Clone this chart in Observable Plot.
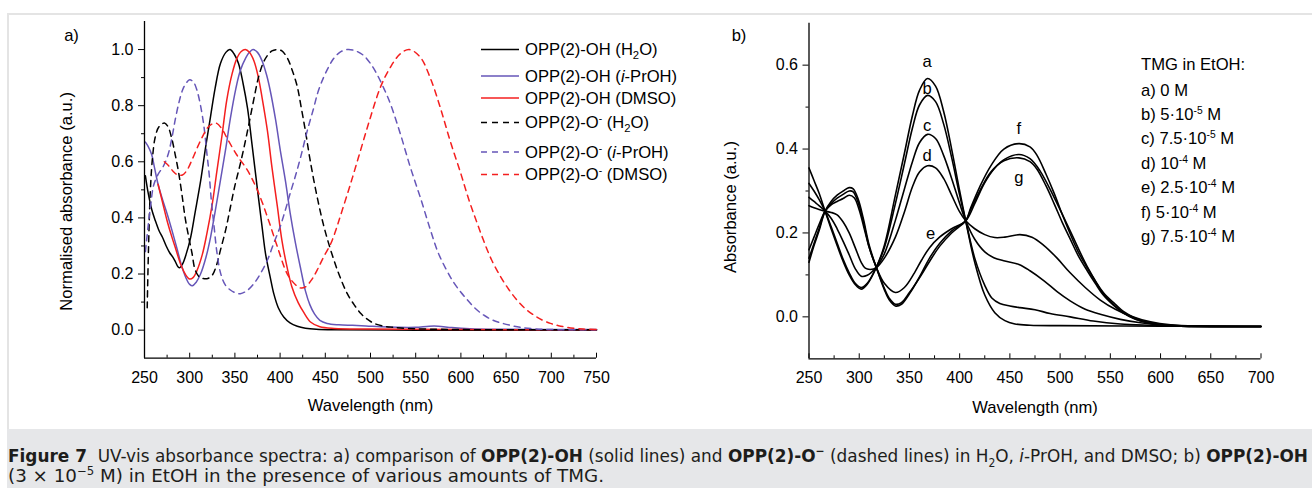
<!DOCTYPE html>
<html><head><meta charset="utf-8">
<script src="https://cdn.jsdelivr.net/npm/d3@7"></script>
<script src="https://cdn.jsdelivr.net/npm/@observablehq/plot@0.6"></script>
<style>
html,body{margin:0;padding:0;background:#fff;width:1312px;height:488px;overflow:hidden;font-family:"Liberation Sans",Arial,sans-serif;}
#frame{position:absolute;left:7px;top:13px;width:1310px;height:416px;border-left:2px solid #e4e4e4;border-top:2px solid #e4e4e4;box-sizing:border-box;}
#pa{position:absolute;left:0;top:0;}
#pb{position:absolute;left:700px;top:0;}
#ov{position:absolute;left:0;top:0;}
#cap{position:absolute;left:7px;top:429px;width:1305px;height:59px;background:#e6e7e9;}
.cl{position:absolute;left:1px;white-space:nowrap;font-family:"Liberation Sans Narrow","DejaVu Sans Condensed","Liberation Sans",sans-serif;font-size:18px;line-height:20px;color:#1d1d1b;transform-origin:0 50%;}
.cl sup,.cl sub{font-size:11.5px;line-height:0;}
</style></head>
<body>
<div id="frame"></div>
<div id="pa"></div>
<div id="pb"></div>
<div id="cap">
<div class="cl" id="l1" style="top:17px"><b>Figure 7</b>&nbsp; UV-vis absorbance spectra: a) comparison of <b>OPP(2)-OH</b> (solid lines) and <b>OPP(2)-O<sup>−</sup></b> (dashed lines) in H<sub>2</sub>O, <i>i</i>-PrOH, and DMSO; b) <b>OPP(2)-OH</b></div>
<div class="cl" id="l2" style="top:37px">(3 × 10<sup>−5</sup> M) in EtOH in the presence of various amounts of TMG.</div>
</div>
<script>
// ---------- Panel a data: [wavelength nm, normalised absorbance] ----------
const ohH2O = [[251,0.55],[254,0.49],[258,0.43],[262,0.39],[266,0.355],[270,0.33],[274,0.30],[278,0.275],[281,0.262],[284,0.245],[287,0.226],[289,0.222],[292,0.235],[296,0.27],[301,0.33],[306,0.42],[312,0.53],[318,0.66],[323,0.76],[328,0.86],[334,0.95],[340,0.99],[344.5,1.0],[349,0.985],[354,0.95],[359,0.88],[364,0.79],[369,0.66],[375,0.50],[380,0.37],[384,0.27],[389,0.19],[393,0.13],[398,0.08],[404,0.047],[411,0.026],[419,0.014],[428,0.007],[440,0.003],[460,0.001],[550,0.0],[650,0.0],[750,0.0]];
const ohPrOH = [[251,0.67],[254,0.655],[258,0.625],[261,0.58],[265,0.52],[270,0.465],[275,0.415],[280,0.36],[286,0.29],[291,0.23],[296,0.185],[300,0.163],[303,0.158],[307,0.17],[312,0.2],[318,0.26],[323,0.33],[328,0.42],[334,0.534],[340,0.65],[345,0.755],[351,0.86],[356,0.925],[362,0.97],[366,0.99],[370,1.0],[375,0.99],[380,0.96],[385,0.91],[389,0.855],[395,0.75],[400,0.645],[406,0.53],[411,0.42],[417,0.31],[423,0.215],[428,0.14],[433,0.09],[438,0.058],[444,0.035],[452,0.024],[465,0.019],[480,0.017],[495,0.015],[511,0.012],[530,0.01],[550,0.01],[565,0.014],[575,0.014],[590,0.009],[610,0.005],[650,0.003],[700,0.002],[750,0.002]];
const ohDMSO = [[265,0.52],[270,0.455],[275,0.39],[280,0.335],[285,0.285],[290,0.235],[295,0.2],[300,0.182],[304,0.188],[308,0.212],[314,0.27],[319,0.344],[325,0.45],[330,0.565],[336,0.70],[341,0.82],[347,0.915],[352,0.967],[357,0.993],[361.5,1.0],[366,0.99],[371,0.96],[376,0.90],[380,0.83],[386,0.71],[391,0.58],[397,0.44],[402,0.32],[408,0.22],[413,0.155],[420,0.098],[426,0.064],[434,0.028],[444,0.012],[460,0.006],[500,0.004],[600,0.002],[750,0.001]];
const oH2O = [[253,0.08],[254.5,0.3],[256.5,0.5],[259,0.62],[262,0.69],[266,0.725],[272,0.738],[276,0.725],[280,0.685],[284,0.625],[288,0.557],[292,0.47],[295,0.40],[299,0.33],[302.5,0.275],[306,0.215],[310,0.192],[315,0.184],[320,0.184],[325,0.196],[330,0.235],[334,0.285],[340,0.36],[345,0.438],[350,0.515],[356,0.593],[362,0.68],[367,0.759],[372,0.84],[376,0.90],[381,0.95],[386,0.979],[391,0.995],[397,1.0],[402,0.995],[408,0.97],[413,0.93],[419,0.868],[423,0.80],[428,0.71],[433,0.61],[440,0.49],[448,0.375],[456,0.285],[465,0.2],[474,0.132],[482,0.09],[489,0.06],[496,0.04],[504,0.024],[515,0.014],[525,0.01],[540,0.006],[560,0.004],[600,0.002],[750,0.001]];
const oPrOH = [[251,0.28],[254,0.37],[257,0.45],[260,0.515],[265,0.555],[271,0.585],[276,0.625],[280,0.68],[284,0.75],[288,0.81],[292,0.855],[296,0.88],[300,0.892],[304,0.885],[308,0.855],[312,0.80],[316,0.72],[319,0.63],[321.5,0.557],[324,0.46],[327,0.368],[330,0.28],[334,0.205],[339,0.163],[345,0.143],[350,0.134],[356,0.13],[363,0.14],[371,0.166],[378,0.2],[386,0.25],[393,0.31],[400,0.368],[406,0.43],[411,0.486],[417,0.55],[423,0.62],[430,0.71],[437,0.79],[442,0.85],[448,0.90],[454,0.94],[459,0.967],[466,0.99],[474,1.0],[482,0.997],[492,0.98],[500,0.95],[507,0.913],[515,0.86],[522,0.807],[533,0.70],[544,0.581],[555,0.474],[566,0.36],[575,0.275],[584,0.215],[592,0.17],[600,0.135],[608,0.105],[616,0.077],[625,0.054],[635,0.036],[644,0.026],[655,0.017],[666,0.01],[680,0.005],[700,0.002],[750,0.001]];
const oDMSO = [[272,0.6],[277,0.585],[282,0.565],[287,0.553],[292,0.553],[297,0.57],[303,0.61],[309,0.655],[315,0.695],[320,0.722],[325,0.735],[330,0.737],[336,0.715],[342,0.68],[352,0.625],[364,0.569],[375,0.498],[386,0.403],[397,0.297],[408,0.2],[417,0.162],[423,0.15],[428,0.154],[435,0.18],[441,0.214],[448,0.26],[456,0.308],[462,0.36],[467,0.41],[478,0.522],[489,0.641],[500,0.759],[511,0.866],[522,0.937],[533,0.985],[543,1.0],[555,0.973],[566,0.90],[577,0.795],[588,0.676],[600,0.557],[609,0.463],[617,0.39],[625,0.32],[634,0.25],[644,0.19],[653,0.145],[662,0.107],[671,0.077],[681,0.053],[690,0.036],[699,0.024],[708,0.016],[718,0.01],[735,0.004],[750,0.002]];
const seriesNamesA = ["OPP(2)-OH (H_{2}O)","OPP(2)-OH (*i*-PrOH)","OPP(2)-OH (DMSO)","OPP(2)-O^{-} (H_{2}O)","OPP(2)-O^{-} (*i*-PrOH)","OPP(2)-O^{-} (DMSO)"];
const xTicksA = [250,300,350,400,450,500,550,600,650,700,750];
const yTicksA = [0,0.2,0.4,0.6,0.8,1.0];

// ---------- Panel b data: [wavelength nm, absorbance] ----------
const tmgA = [[250,0.355],[255,0.325],[260,0.295],[266,0.252],[272,0.21],[278,0.17],[284,0.132],[290,0.1],[296,0.077],[302,0.066],[308,0.078],[317,0.118],[325,0.17],[336,0.29],[345,0.39],[353,0.48],[360,0.54],[368,0.568],[376,0.55],[384,0.49],[392,0.40],[400,0.30],[406,0.229],[415,0.13],[425,0.052],[435,0.01],[445,-0.009],[455,-0.017],[470,-0.02],[500,-0.021],[600,-0.022],[700,-0.023]];
const tmgB = [[250,0.318],[255,0.3],[260,0.28],[266,0.252],[272,0.215],[278,0.176],[284,0.137],[290,0.105],[296,0.08],[302,0.07],[308,0.08],[317,0.118],[325,0.165],[336,0.27],[345,0.365],[353,0.45],[360,0.505],[368,0.528],[376,0.513],[384,0.46],[392,0.38],[400,0.29],[406,0.229],[415,0.14],[425,0.075],[432,0.045],[440,0.032],[450,0.026],[460,0.022],[475,0.017],[490,0.008],[510,0.0],[533,-0.01],[560,-0.017],[590,-0.02],[620,-0.022],[700,-0.023]];
const tmgC = [[250,0.285],[255,0.275],[260,0.265],[266,0.252],[272,0.235],[278,0.21],[284,0.18],[290,0.148],[296,0.115],[302,0.097],[308,0.099],[317,0.118],[325,0.15],[336,0.23],[345,0.305],[353,0.37],[360,0.415],[368,0.435],[376,0.425],[384,0.385],[392,0.33],[400,0.27],[406,0.229],[415,0.185],[425,0.155],[434,0.141],[445,0.133],[459,0.125],[470,0.11],[484,0.086],[497,0.06],[510,0.038],[525,0.018],[540,0.006],[560,-0.006],[580,-0.014],[600,-0.019],[630,-0.022],[700,-0.023]];
const tmgD = [[250,0.265],[255,0.26],[260,0.256],[266,0.252],[272,0.249],[278,0.243],[284,0.226],[290,0.2],[296,0.165],[302,0.13],[306,0.116],[311,0.113],[317,0.117],[325,0.14],[336,0.19],[345,0.25],[353,0.31],[360,0.345],[368,0.36],[376,0.355],[384,0.33],[392,0.29],[400,0.25],[406,0.229],[415,0.21],[425,0.196],[435,0.189],[445,0.19],[460,0.196],[472,0.19],[484,0.17],[497,0.14],[510,0.105],[525,0.07],[540,0.04],[555,0.018],[570,0.002],[590,-0.012],[610,-0.019],[640,-0.022],[700,-0.023]];
const tmgE = [[250,0.16],[255,0.19],[260,0.22],[266,0.252],[272,0.267],[278,0.275],[284,0.282],[290,0.29],[295,0.284],[300,0.255],[305,0.21],[310,0.165],[317,0.118],[325,0.08],[336,0.058],[345,0.07],[355,0.105],[362,0.135],[370,0.165],[380,0.19],[392,0.21],[406,0.229],[415,0.27],[425,0.32],[435,0.355],[445,0.376],[459,0.387],[470,0.377],[480,0.348],[494,0.285],[510,0.205],[527,0.12],[543,0.058],[555,0.03],[563,0.013],[575,-0.003],[587,-0.013],[600,-0.019],[620,-0.022],[700,-0.023]];
const tmgF = [[250,0.13],[255,0.17],[260,0.205],[266,0.252],[272,0.275],[278,0.29],[284,0.3],[290,0.308],[294,0.305],[299,0.28],[304,0.235],[310,0.17],[317,0.118],[325,0.065],[330,0.04],[336,0.026],[342,0.03],[350,0.055],[360,0.095],[370,0.14],[380,0.175],[392,0.205],[406,0.229],[411,0.26],[420,0.31],[431,0.36],[444,0.40],[459,0.413],[470,0.405],[477,0.385],[486,0.34],[494,0.295],[502,0.245],[510,0.198],[518,0.155],[527,0.117],[535,0.085],[543,0.055],[553,0.03],[563,0.01],[575,-0.005],[587,-0.014],[600,-0.019],[620,-0.022],[700,-0.023]];
const tmgG = [[250,0.14],[255,0.175],[260,0.21],[266,0.252],[272,0.27],[278,0.283],[284,0.292],[290,0.3],[294,0.298],[299,0.272],[304,0.228],[310,0.165],[317,0.118],[325,0.068],[330,0.044],[336,0.03],[342,0.034],[350,0.058],[360,0.093],[370,0.132],[380,0.168],[392,0.2],[406,0.229],[411,0.256],[420,0.3],[431,0.345],[444,0.372],[459,0.379],[470,0.37],[477,0.352],[486,0.312],[494,0.27],[502,0.226],[510,0.186],[518,0.146],[527,0.11],[535,0.08],[543,0.052],[553,0.028],[563,0.009],[575,-0.006],[587,-0.014],[600,-0.019],[620,-0.022],[700,-0.023]];
const curveLabels = ["a","b","c","d","e","f","g"];
const curveLabelNm = [367.7,367.7,367.7,367.7,371,459,459];
const curveLabelAbs = [0.608,0.545,0.455,0.384,0.199,0.448,0.332];
const legendB = ["TMG in EtOH:","a) 0 M","b) 5·10^{-5} M","c) 7.5·10^{-5} M","d) 10^{-4} M","e) 2.5·10^{-4} M","f) 5·10^{-4} M","g) 7.5·10^{-4} M"];
const xTicksB = [250,300,350,400,450,500,550,600,650,700];
const yTicksB = [0,0.2,0.4,0.6];

// ---------- styles ----------
const FONT = '"Liberation Sans", Arial, sans-serif';
const FS = 16, FT = 16.6, FL = 16.6;
const BLACK = "#000", PURPLE = "#6656b8", RED = "#f41f1f";
const styleA = [
  {data: ohH2O, stroke: BLACK, dash: null},
  {data: ohPrOH, stroke: PURPLE, dash: null},
  {data: ohDMSO, stroke: RED, dash: null},
  {data: oH2O, stroke: BLACK, dash: "6,5"},
  {data: oPrOH, stroke: PURPLE, dash: "6,5"},
  {data: oDMSO, stroke: RED, dash: "6,5"}
];
const rows = arr => arr.map(([nm, v]) => ({nm, v}));
const minorOf = (ticks, step) => ticks.slice(0, -1).map(t => +(t + step / 2).toFixed(3));
const centred = {textAnchor: "middle", lineAnchor: "middle"};

// ---------- Panel a ----------
{
  const W = 700, H = 430, mt = 21, mb = 72.3, ml = 144, mr = 104;
  const innerH = H - mt - mb;
  const plot = Plot.plot({
    width: W, height: H, marginTop: mt, marginBottom: mb, marginLeft: ml, marginRight: mr,
    x: {domain: [250, 750], label: null},
    y: {domain: [-0.1, 1.1], label: null},
    style: {fontFamily: FONT, fontSize: FS + "px", color: "#000", background: "transparent", overflow: "visible"},
    marks: [
      ...styleA.map(s => Plot.line(rows(s.data), {x: "nm", y: "v", stroke: s.stroke, strokeWidth: 1.5, strokeDasharray: s.dash, curve: "catmull-rom"})),
      Plot.ruleX([250], {stroke: "#000", strokeWidth: 1.3}),
      Plot.ruleY([-0.1], {stroke: "#000", strokeWidth: 1.3}),
      Plot.axisY({ticks: yTicksA, tickSize: 6, tickPadding: 5, tickFormat: d3.format(".1f"), label: null, fontSize: FS}),
      Plot.axisY({ticks: minorOf(yTicksA, 0.2), tickSize: 3, tickFormat: () => "", label: null}),
      Plot.axisX({ticks: xTicksA, tickSize: 0, tickPadding: 13, tickFormat: d => String(d), label: null, fontSize: FS}),
      Plot.tickX(xTicksA, {x: d => d, insetTop: innerH - 5, stroke: "#000"}),
      Plot.tickX(minorOf(xTicksA, 50), {x: d => d, insetTop: innerH - 3, stroke: "#000"}),
      Plot.text(["Wavelength (nm)"], {frameAnchor: "bottom", dy: 47.8, fontSize: FT, ...centred}),
      Plot.text(["Normalised absorbance (a.u.)"], {frameAnchor: "left", rotate: -90, dx: -77.5, dy: 11.5, fontSize: FT, ...centred}),
      Plot.text(["a)"], {frameAnchor: "top-left", dx: -73, dy: 14.5, fontSize: FT, ...centred})
    ]
  });
  document.getElementById("pa").appendChild(plot);
}

// ---------- Panel b ----------
{
  const W = 612, H = 430, mt = 22.7, mb = 71.7, ml = 108.5, mr = 51.5;
  const innerH = H - mt - mb;
  const curves = [tmgA, tmgB, tmgC, tmgD, tmgE, tmgF, tmgG];
  const labels = curveLabels.map((t, i) => ({t, nm: curveLabelNm[i], v: curveLabelAbs[i]}));
  const plot = Plot.plot({
    width: W, height: H, marginTop: mt, marginBottom: mb, marginLeft: ml, marginRight: mr,
    x: {domain: [250, 700], label: null},
    y: {domain: [-0.1, 0.7], label: null},
    style: {fontFamily: FONT, fontSize: FS + "px", color: "#000", background: "transparent", overflow: "visible"},
    marks: [
      ...curves.map(c => Plot.line(rows(c), {x: "nm", y: "v", stroke: "#000", strokeWidth: 1.6, curve: "catmull-rom"})),
      Plot.ruleX([250], {stroke: "#000", strokeWidth: 1.3}),
      Plot.ruleY([-0.1], {stroke: "#000", strokeWidth: 1.3}),
      Plot.axisY({ticks: yTicksB, tickSize: 6, tickPadding: 5, tickFormat: d3.format(".1f"), label: null, fontSize: FS}),
      Plot.axisY({ticks: minorOf(yTicksB, 0.2), tickSize: 3, tickFormat: () => "", label: null}),
      Plot.axisX({ticks: xTicksB, tickSize: 0, tickPadding: 13, tickFormat: d => String(d), label: null, fontSize: FS}),
      Plot.tickX(xTicksB, {x: d => d, insetTop: innerH - 5, stroke: "#000"}),
      Plot.tickX(minorOf(xTicksB, 50), {x: d => d, insetTop: innerH - 3, stroke: "#000"}),
      Plot.text(labels, {x: "nm", y: "v", text: "t", fontSize: FT}),
      Plot.text(["Wavelength (nm)"], {frameAnchor: "bottom", dy: 48.7, fontSize: FT, ...centred}),
      Plot.text(["Absorbance (a.u.)"], {frameAnchor: "left", rotate: -90, dx: -78.5, dy: 16, fontSize: FT, ...centred}),
      Plot.text(["b)"], {frameAnchor: "top-left", dx: -70, dy: 12.3, fontSize: FT, ...centred})
    ]
  });
  document.getElementById("pb").appendChild(plot);
}

// ---------- Legends (overlay) ----------
function rich(sel, str, fs) {
  const parts = str.split(/(_\{[^}]*\}|\^\{[^}]*\}|\*[^*]*\*)/).filter(s => s);
  let shift = 0;
  for (const p of parts) {
    let t = p, dy = 0, size = fs, italic = false;
    if (p.startsWith("_{")) { t = p.slice(2, -1); dy = 4; size = fs * 0.68; }
    else if (p.startsWith("^{")) { t = p.slice(2, -1); dy = -6; size = fs * 0.62; }
    else if (p.startsWith("*")) { t = p.slice(1, -1); italic = true; }
    const ts = sel.append("tspan").text(t).attr("font-size", size);
    if (dy - shift) ts.attr("dy", dy - shift);
    if (italic) ts.attr("font-style", "italic");
    shift = dy;
  }
}
{
  const svg = d3.create("svg").attr("id", "ov").attr("width", 1312).attr("height", 430)
    .style("font-family", FONT).style("overflow", "visible");
  const rowY = [49.5, 76, 98, 122.5, 152, 174.5];
  seriesNamesA.forEach((name, i) => {
    const y = rowY[i];
    svg.append("line").attr("x1", 481).attr("x2", 519).attr("y1", y).attr("y2", y)
      .attr("stroke", styleA[i].stroke).attr("stroke-width", 1.5)
      .attr("stroke-dasharray", styleA[i].dash);
    rich(svg.append("text").attr("x", 525).attr("y", y + FL * 0.35).attr("font-size", FL), name, FL);
  });
  const rowB = [64.5, 90, 114, 138.5, 163, 187, 212, 236.5];
  legendB.forEach((s, i) => {
    rich(svg.append("text").attr("x", 1141).attr("y", rowB[i] + FL * 0.35).attr("font-size", FL), s, FL);
  });
  document.body.appendChild(svg.node());
}

// ---------- Caption fitting ----------
function fitCaption() {
  const fit = (id, target) => {
    const el = document.getElementById(id);
    el.style.transform = "none";
    const w = el.getBoundingClientRect().width;
    el.style.transform = `scaleX(${target / w})`;
  };
  fit("l1", 1300);
  fit("l2", 596);
}
fitCaption();
if (document.fonts && document.fonts.ready) document.fonts.ready.then(fitCaption);
</script>
</body></html>
